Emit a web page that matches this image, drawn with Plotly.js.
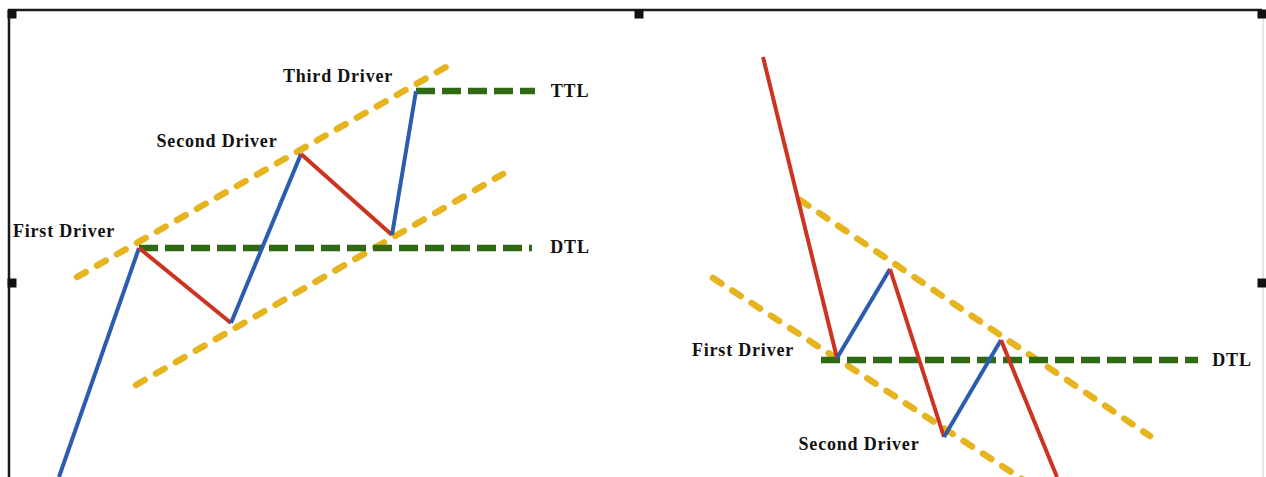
<!DOCTYPE html>
<html>
<head>
<meta charset="utf-8">
<script src="https://cdn.plot.ly/plotly-3.0.1.min.js"></script>
<style>
  html, body { margin: 0; padding: 0; background: #ffffff; }
  #chart { width: 1266px; height: 477px; }
  .textpoint text { letter-spacing: 0.8px; }
  .tracechan path.js-line { stroke-linecap: round; }
</style>
</head>
<body>
<div id="chart"></div>
<script>
// ---- Data (in picture pixel units) ----
// Left panel: up-trend price swings
const leftSwingX = [59, 139, 231, 301, 392, 416];
const leftSwingY = [477, 248, 323, 154, 235, 91];
// Right panel: down-trend price swings
const rightSwingX = [763, 837, 890, 944, 1001, 1057];
const rightSwingY = [57, 358, 269, 437, 340, 477];

// Channel lines (orange dashed)
const leftUpperChannelX = [77, 446];
const leftUpperChannelY = [277, 67];
const leftLowerChannelX = [136, 503];
const leftLowerChannelY = [385, 174];
const rightUpperChannelX = [800, 1150];
const rightUpperChannelY = [200, 436];
const rightLowerChannelX = [713, 1022];
const rightLowerChannelY = [278, 479];

// Trigger lines (green dashed)
const leftDtlX = [139, 532];
const leftDtlY = [248, 248];
const leftTtlX = [416, 535];
const leftTtlY = [91, 91];
const rightDtlX = [821, 1198];
const rightDtlY = [360, 360];

// Labels
const labelText = ["First Driver", "Second Driver", "Third Driver", "TTL", "DTL",
                   "First Driver", "Second Driver", "DTL"];
const labelX = [64, 217, 338, 570, 570, 743, 859, 1232];
const labelY = [232, 142, 77, 92, 248, 351, 445, 361];

// Frame (border and handles)
const frameTopX = [8, 1262];
const frameTopY = [10, 10];
const frameLeftX = [9, 9];
const frameLeftY = [10, 477];
const frameRightX = [1263, 1263];
const frameRightY = [10, 477];
const handleX = [12, 639, 1262, 12, 1262];
const handleY = [14, 14, 14, 283, 283];

// ---- Styles ----
const BLUE = '#2c5cae';
const RED = '#cc3320';
const ORANGE = '#e5b41e';
const GREEN = '#2f6a12';

const traces = [];
let uidCount = 0;

function line(x, y, color, width, dash, uid) {
  traces.push({
    type: 'scatter', mode: 'lines', x: x, y: y,
    line: { color: color, width: width, dash: dash || 'solid' },
    hoverinfo: 'skip', showlegend: false,
    uid: uid || ('t' + (uidCount++))
  });
}

// frame
line(frameTopX, frameTopY, '#1a1a1a', 2.5);
line(frameLeftX, frameLeftY, '#1a1a1a', 2.5);
line(frameRightX, frameRightY, '#dcdcdc', 1.5);
traces.push({
  type: 'scatter', mode: 'markers', x: handleX, y: handleY,
  marker: { symbol: 'square', size: 9, color: '#111111' },
  hoverinfo: 'skip', showlegend: false
});

// orange channels (round-capped dashes)
line(leftUpperChannelX, leftUpperChannelY, ORANGE, 6.5, '10px,13px', 'chan');
line(leftLowerChannelX, leftLowerChannelY, ORANGE, 6.5, '10px,13px', 'chan');
line(rightUpperChannelX, rightUpperChannelY, ORANGE, 6.5, '10px,13px', 'chan');
line(rightLowerChannelX, rightLowerChannelY, ORANGE, 6.5, '10px,13px', 'chan');

// green trigger lines
line(leftDtlX, leftDtlY, GREEN, 6.5, '19px,7px');
line(leftTtlX, leftTtlY, GREEN, 6.5, '19px,7px');
line(rightDtlX, rightDtlY, GREEN, 6.5, '19px,7px');

// price swings: up legs blue, down legs red (y axis is pixel-down)
function swings(xs, ys) {
  for (let i = 0; i < xs.length - 1; i++) {
    const up = ys[i + 1] < ys[i];
    line([xs[i], xs[i + 1]], [ys[i], ys[i + 1]], up ? BLUE : RED, 4);
  }
}
swings(leftSwingX, leftSwingY);
swings(rightSwingX, rightSwingY);

// labels
traces.push({
  type: 'scatter', mode: 'text', x: labelX, y: labelY, text: labelText,
  textposition: 'middle center',
  textfont: { family: 'Liberation Serif, Times New Roman, serif', size: 18, color: '#111111', weight: 'bold' },
  hoverinfo: 'skip', showlegend: false
});

// make the channel trace groups share one class for round caps
const layout = {
  width: 1266, height: 477,
  margin: { l: 0, r: 0, t: 0, b: 0, pad: 0 },
  paper_bgcolor: '#ffffff', plot_bgcolor: '#ffffff',
  xaxis: { range: [0, 1266], visible: false, fixedrange: true },
  yaxis: { range: [477, 0], visible: false, fixedrange: true },
  showlegend: false
};

// unique uids are required; give channel traces distinct ids but tag them
let c = 0;
traces.forEach(t => { if (t.uid === 'chan') { t.uid = 'chan' + (c++); } });

Plotly.newPlot('chart', traces, layout, { staticPlot: true, displayModeBar: false }).then(gd => {
  gd.querySelectorAll('g.trace').forEach(g => {
    const cls = g.getAttribute('class') || '';
    if (/tracechan\d/.test(cls)) {
      g.querySelectorAll('path.js-line').forEach(p => p.style.strokeLinecap = 'round');
    }
  });
});
</script>
</body>
</html>
